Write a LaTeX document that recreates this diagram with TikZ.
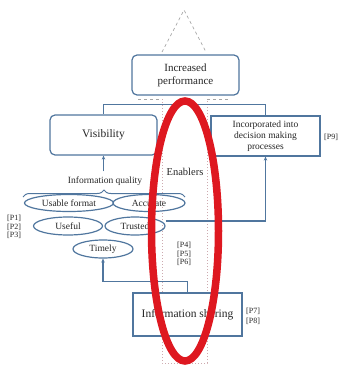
\documentclass[tikz,border=0pt]{standalone}
\usepackage{fontspec}
\setmainfont{Liberation Serif}
\usetikzlibrary{shapes.geometric,decorations.pathreplacing,arrows.meta}
\definecolor{boxblue}{RGB}{80,118,158}
\definecolor{ink}{RGB}{38,38,38}
\definecolor{roofgray}{RGB}{165,165,165}
\definecolor{pillar}{RGB}{205,170,175}
\definecolor{marker}{RGB}{222,24,32}

\begin{document}
\begin{tikzpicture}[x=1pt,y=-1pt,
  box/.style={draw=boxblue,line width=1.2pt,fill=white,text=ink,align=center,inner sep=0pt},
  roundbox/.style={box,rounded corners=5pt},
  oval/.style={ellipse,draw=boxblue,line width=1.2pt,text=ink,inner sep=0pt,
    font=\fontsize{9.5}{10}\selectfont},
  link/.style={draw=boxblue,line width=1.2pt},
  arr/.style={link,-{Stealth[length=4pt,width=3.5pt]}},
  ref/.style={text=ink,font=\fontsize{8}{8.5}\selectfont,align=left,inner sep=0pt,anchor=west},
]
\useasboundingbox (0,0) rectangle (338,367);

% roof and pillars of the enablers frame
\draw[roofgray,dashed,line width=0.7pt] (162,52) -- (184,10) -- (206,52);
\draw[roofgray,dashed,line width=0.7pt] (138,99) -- (162,99) (207,99) -- (229,99);
\draw[pillar,dotted,line width=1pt] (162,99) -- (162,363) -- (207,363) -- (207,99);

% main boxes
\node[roundbox,minimum width=107pt,minimum height=40pt,
  font=\fontsize{11}{13}\selectfont] (perf) at (185.5,75) {Increased\\performance};
\node[roundbox,minimum width=107pt,minimum height=40pt,
  font=\fontsize{11.5}{13}\selectfont] (vis) at (103.5,135) {Visibility};
\node[box,minimum width=109pt,minimum height=40pt,
  font=\fontsize{9.5}{11}\selectfont] (inc) at (265.5,136)
  {Incorporated into\\decision making\\processes};
\node[box,minimum width=109pt,minimum height=43pt,
  font=\fontsize{11.5}{13}\selectfont] (share) at (187.5,314.5) {Information sharing};

% information quality group
\node[text=ink,inner sep=0pt,font=\fontsize{9.5}{10}\selectfont] (iq) at (105,181) {Information quality};
\draw[boxblue,line width=1pt,decorate,decoration={brace,amplitude=7pt}] (23,197) -- (185,197);
\node[oval,minimum width=89pt,minimum height=17pt] (uf) at (69,203) {Usable format};
\node[oval,minimum width=72pt,minimum height=17pt] (acc) at (149,203) {Accurate};
\node[oval,minimum width=69pt,minimum height=18pt] (use) at (68,226) {Useful};
\node[oval,minimum width=60pt,minimum height=18pt] (tru) at (135,226) {Trusted};
\node[oval,minimum width=60pt,minimum height=18pt] (tim) at (103,249) {Timely};

% connectors
\draw[link] (vis.north) -- ++(0,-10) -| (inc.north);
\draw[arr] ([yshift=5pt]iq.north -| vis.south) -- (vis.south);
\draw[arr] ([yshift=5pt]tru.east) -| (inc.south);
\draw[arr] (share.north) -- ++(0,-11) -| (tim.south);

% labels
\node[text=ink,inner sep=0pt,font=\fontsize{10.5}{12}\selectfont] (enb) at (185,172) {Enablers};
\node[ref] (p13) at (7,227) {{[P1]}\\{[P2]}\\{[P3]}};
\node[ref] (p46) at (177,254) {{[P4]}\\{[P5]}\\{[P6]}};
\node[ref,font=\fontsize{8}{10}\selectfont] (p78) at (246,316) {{[P7]}\\{[P8]}};
\node[ref] (p9) at (324,137) {[P9]};

% highlight marker
\draw[marker,line width=7.5pt] (185,231) ellipse [x radius=33.5, y radius=130];
\end{tikzpicture}
\end{document}
